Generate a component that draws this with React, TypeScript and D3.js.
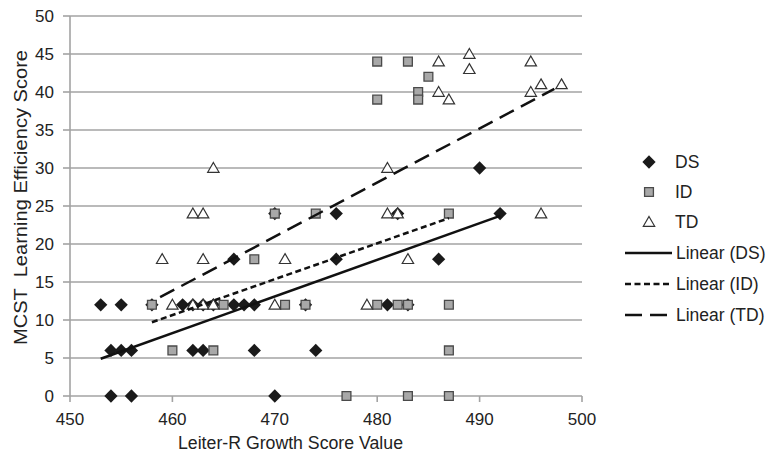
import * as d3 from "d3";

// points: [Leiter-R growth score, MCST score]
const dsPoints: [number, number][] = [
  [453, 12], [455, 12], [458, 12], [461, 12], [462, 12], [463, 12], [464, 12],
  [466, 12], [467, 12], [468, 12], [473, 12], [481, 12], [483, 12],
  [454, 6], [455, 6], [456, 6], [462, 6], [463, 6], [468, 6], [474, 6],
  [454, 0], [456, 0], [470, 0],
  [466, 18], [476, 18], [486, 18],
  [470, 24], [476, 24], [482, 24], [492, 24],
  [490, 30],
];
const idPoints: [number, number][] = [
  [458, 12], [465, 12], [471, 12], [473, 12], [480, 12], [482, 12], [483, 12], [487, 12],
  [460, 6], [464, 6], [487, 6],
  [477, 0], [483, 0], [487, 0],
  [468, 18],
  [470, 24], [474, 24], [487, 24],
  [480, 44], [483, 44], [485, 42], [484, 40], [484, 39], [480, 39],
];
const tdPoints: [number, number][] = [
  [460, 12], [462, 12], [463, 12], [464, 12], [470, 12], [479, 12],
  [459, 18], [463, 18], [471, 18], [483, 18],
  [462, 24], [463, 24], [481, 24], [482, 24], [496, 24],
  [464, 30], [481, 30],
  [486, 44], [489, 45], [489, 43], [486, 40], [487, 39],
  [495, 44], [495, 40], [496, 41], [498, 41],
];
// trend line end points, as drawn in the figure
const trendDS: [number, number][] = [[453, 4.9], [492, 23.7]];
const trendID: [number, number][] = [[458, 9.7], [487, 23.4]];
const trendTD: [number, number][] = [[458.8, 13], [497.3, 40.4]];

const xTicks = [450, 460, 470, 480, 490, 500];
const yTicks = [0, 5, 10, 15, 20, 25, 30, 35, 40, 45, 50];
const legendItems = ["DS", "ID", "TD", "Linear (DS)", "Linear (ID)", "Linear (TD)"];

const font = "'Liberation Sans', Arial, sans-serif";
const grid = "#a3a3a3";

export default function App() {
  const x = d3.scaleLinear().domain([450, 500]).range([70, 582]);
  const y = d3.scaleLinear().domain([0, 50]).range([396, 16]);
  const line = d3.line<[number, number]>().x((d) => x(d[0])).y((d) => y(d[1]));

  const diamond = d3.symbol(d3.symbolSquare, 88)()!;
  const square = d3.symbol(d3.symbolSquare, 78)()!;
  const triangle = d3.symbol(d3.symbolTriangle, 56)()!;

  const drawMark = (kind: string, px: number, py: number, key: string) => {
    if (kind === "DS")
      return <path key={key} d={diamond} transform={`translate(${px},${py}) rotate(45)`} fill="#1a1a1a" />;
    if (kind === "ID")
      return <path key={key} d={square} transform={`translate(${px},${py})`} fill="#a8a8a8" stroke="#4a4a4a" strokeWidth={1.3} />;
    return <path key={key} d={triangle} transform={`translate(${px},${py + 1})`} fill="#fff" stroke="#333" strokeWidth={1.2} />;
  };

  return (
    <svg width={773} height={464} style={{ position: "absolute", left: 0, top: 0, background: "#fff" }}>
      {/* grid */}
      {yTicks.map((t) => (
        <g key={t}>
          <line x1={x(450)} x2={x(500)} y1={y(t)} y2={y(t)} stroke={grid} strokeWidth={1.6} />
          <line x1={x(450) - 7} x2={x(450)} y1={y(t)} y2={y(t)} stroke={grid} strokeWidth={1.6} />
          <text x={54} y={y(t) + 6} textAnchor="end" fontFamily={font} fontSize={17} fill="#222">{t}</text>
        </g>
      ))}
      <line x1={x(450)} x2={x(450)} y1={y(0)} y2={y(50)} stroke={grid} strokeWidth={1.6} />
      {xTicks.map((t) => (
        <g key={t}>
          <line x1={x(t)} x2={x(t)} y1={y(0)} y2={y(0) + 6} stroke={grid} strokeWidth={1.6} />
          <text x={x(t)} y={425} textAnchor="middle" fontFamily={font} fontSize={17} fill="#222">{t}</text>
        </g>
      ))}

      {/* points */}
      {dsPoints.map((d, i) => drawMark("DS", x(d[0]), y(d[1]), "ds" + i))}
      {idPoints.map((d, i) => drawMark("ID", x(d[0]), y(d[1]), "id" + i))}
      {tdPoints.map((d, i) => drawMark("TD", x(d[0]), y(d[1]), "td" + i))}

      {/* trend lines */}
      <path d={line(trendDS)!} stroke="#111" strokeWidth={2.5} fill="none" />
      <path d={line(trendID)!} stroke="#111" strokeWidth={2.5} fill="none" strokeDasharray="6 3.5" />
      <path d={line(trendTD)!} stroke="#111" strokeWidth={2.5} fill="none" strokeDasharray="16 8" />

      {/* axis titles */}
      <text x={290.5} y={449} textAnchor="middle" fontFamily={font} fontSize={17.5} fill="#222"
        textLength={225} lengthAdjust="spacingAndGlyphs">
        Leiter-R Growth Score Value
      </text>
      <text transform="translate(27,197.5) rotate(-90)" textAnchor="middle" fontFamily={font} fontSize={18} fill="#222"
        textLength={295} lengthAdjust="spacingAndGlyphs" style={{ whiteSpace: "pre" }}>
        {"MCST  Learning Efficiency Score"}
      </text>

      {/* legend */}
      {legendItems.map((name, i) => {
        const ly = [162, 192, 222, 253, 284, 315][i];
        return (
          <g key={name}>
            {i < 3 ? (
              drawMark(name, 649, ly, "lg" + i)
            ) : (
              <line
                x1={625}
                x2={672}
                y1={ly}
                y2={ly}
                stroke="#111"
                strokeWidth={2.5}
                strokeDasharray={i === 3 ? undefined : i === 4 ? "6 3.5" : "17 8"}
              />
            )}
            <text x={i < 3 ? 675 : 676} y={ly + 6} fontFamily={font} fontSize={17.5} fill="#222">{name}</text>
          </g>
        );
      })}
    </svg>
  );
}
